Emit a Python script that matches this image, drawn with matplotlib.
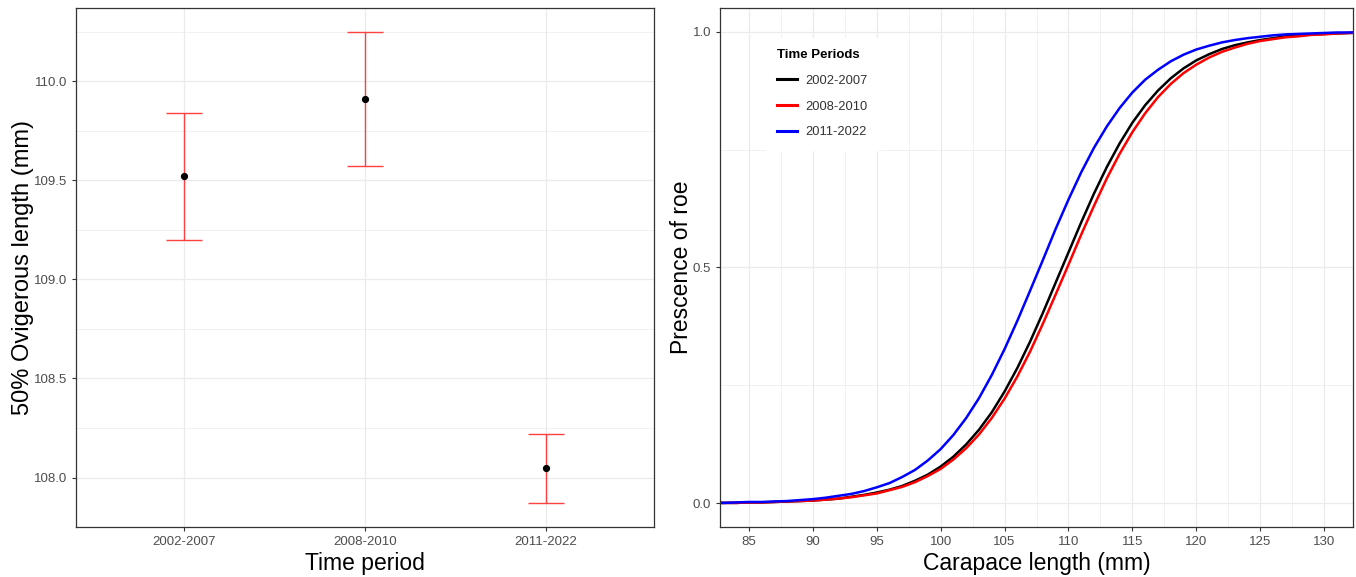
import matplotlib

matplotlib.use("Agg")

import matplotlib.pyplot as plt
from matplotlib.ticker import MultipleLocator, FormatStrFormatter

plt.rcParams["font.family"] = ["Liberation Sans", "DejaVu Sans"]

# Left panel: 50% ovigerous length per time period (estimate and interval)
periods = ["2002-2007", "2008-2010", "2011-2022"]
l50 = [109.52, 109.91, 108.05]
l50_low = [109.20, 109.57, 107.87]
l50_high = [109.84, 110.25, 108.22]

# Right panel: fitted presence-of-roe curves
carapace = [82, 83, 84, 85, 86, 87, 88, 89, 90, 91, 92, 93, 94, 95, 96, 97, 98, 99,
            100, 101, 102, 103, 104, 105, 106, 107, 108, 109, 110, 111, 112, 113,
            114, 115, 116, 117, 118, 119, 120, 121, 122, 123, 124, 125, 126, 127,
            128, 129, 130, 131, 132, 133]
roe_2002_2007 = [0.001, 0.001, 0.001, 0.002, 0.002, 0.003, 0.004, 0.005, 0.006, 0.008,
                 0.010, 0.014, 0.018, 0.023, 0.029, 0.037, 0.048, 0.061, 0.078, 0.099,
                 0.125, 0.156, 0.193, 0.237, 0.287, 0.343, 0.404, 0.468, 0.532, 0.596,
                 0.657, 0.713, 0.763, 0.807, 0.844, 0.875, 0.901, 0.922, 0.939, 0.952,
                 0.963, 0.971, 0.977, 0.982, 0.986, 0.990, 0.992, 0.994, 0.995, 0.996,
                 0.997, 0.998]
roe_2008_2010 = [0.001, 0.001, 0.001, 0.002, 0.002, 0.003, 0.004, 0.005, 0.006, 0.008,
                 0.010, 0.013, 0.017, 0.021, 0.028, 0.035, 0.045, 0.058, 0.073, 0.093,
                 0.117, 0.146, 0.181, 0.222, 0.269, 0.322, 0.381, 0.443, 0.506, 0.570,
                 0.631, 0.689, 0.741, 0.787, 0.827, 0.861, 0.889, 0.912, 0.930, 0.945,
                 0.957, 0.966, 0.974, 0.980, 0.984, 0.988, 0.990, 0.993, 0.994, 0.996,
                 0.997, 0.998]
roe_2011_2022 = [0.001, 0.001, 0.002, 0.003, 0.003, 0.004, 0.005, 0.007, 0.009, 0.012,
                 0.016, 0.020, 0.026, 0.034, 0.043, 0.056, 0.071, 0.091, 0.115, 0.145,
                 0.181, 0.223, 0.272, 0.327, 0.387, 0.451, 0.516, 0.582, 0.644, 0.702,
                 0.754, 0.799, 0.838, 0.871, 0.898, 0.919, 0.937, 0.951, 0.962, 0.970,
                 0.977, 0.982, 0.986, 0.989, 0.992, 0.994, 0.995, 0.996, 0.997, 0.998,
                 0.998, 0.999]

GRID = "#EBEBEB"
BORDER = "#333333"
TICKTXT = "#4D4D4D"


def style_panel(ax):
    """theme_bw-ish look."""
    for sp in ax.spines.values():
        sp.set_color(BORDER)
        sp.set_linewidth(0.9)
    ax.tick_params(which="major", length=3, width=0.8, color=BORDER,
                   labelcolor=TICKTXT, labelsize=9.5)
    ax.tick_params(which="minor", length=0)
    ax.grid(True, which="major", color=GRID, linewidth=0.9)
    ax.grid(True, which="minor", color=GRID, linewidth=0.5)
    ax.set_axisbelow(True)


fig = plt.figure(figsize=(13.56, 5.77), dpi=100)

# ---- left panel ----
ax1 = fig.add_axes([0.0560, 0.0867, 0.4263, 0.8995])
style_panel(ax1)
xpos = list(range(1, len(periods) + 1))
ax1.vlines(xpos, l50_low, l50_high, color="#FF4040", linewidth=1.0)
ax1.hlines(l50_low, [x - 0.1 for x in xpos], [x + 0.1 for x in xpos],
           color="#FF4040", linewidth=1.0)
ax1.hlines(l50_high, [x - 0.1 for x in xpos], [x + 0.1 for x in xpos],
           color="#FF4040", linewidth=1.0)
ax1.plot(xpos, l50, "o", color="black", markersize=4.2, zorder=3)

lo, hi = min(l50_low), max(l50_high)
pad = (hi - lo) * 0.05
ax1.set_ylim(lo - pad, hi + pad)
ax1.set_xlim(0.4, len(periods) + 0.6)
ax1.set_xticks(xpos)
ax1.set_xticklabels(periods)
ax1.yaxis.set_major_locator(MultipleLocator(0.5))
ax1.yaxis.set_minor_locator(MultipleLocator(0.25))
ax1.yaxis.set_major_formatter(FormatStrFormatter("%.1f"))
ax1.set_xlabel("Time period", fontsize=16.5, labelpad=3)
ax1.set_ylabel("50% Ovigerous length (mm)", fontsize=17, labelpad=-0.5)

# ---- right panel ----
ax2 = fig.add_axes([0.5310, 0.0867, 0.4668, 0.8995])
style_panel(ax2)
ax2.plot(carapace, roe_2002_2007, color="black", linewidth=1.8, label="2002-2007")
ax2.plot(carapace, roe_2008_2010, color="red", linewidth=1.8, label="2008-2010")
ax2.plot(carapace, roe_2011_2022, color="blue", linewidth=1.8, label="2011-2022")
ax2.set_xlim(82.75, 132.25)
ax2.set_ylim(-0.05, 1.05)
ax2.xaxis.set_major_locator(MultipleLocator(5))
ax2.xaxis.set_minor_locator(MultipleLocator(2.5))
ax2.yaxis.set_major_locator(MultipleLocator(0.5))
ax2.yaxis.set_minor_locator(MultipleLocator(0.25))
ax2.yaxis.set_major_formatter(FormatStrFormatter("%.1f"))
ax2.set_xlabel("Carapace length (mm)", fontsize=16.5, labelpad=3)
ax2.set_ylabel("Prescence of roe", fontsize=16.5, labelpad=-0.5)

leg = ax2.legend(title="Time Periods", loc="upper left",
                 bbox_to_anchor=(0.062, 0.955), frameon=True, fancybox=False,
                 edgecolor="white", framealpha=1.0, fontsize=9.3,
                 handlelength=1.5, handletextpad=0.7, labelspacing=1.05,
                 borderpad=0.9)
leg.get_title().set_fontweight("bold")
leg.get_title().set_fontsize(9.5)
leg._legend_box.align = "left"
for line in leg.get_lines():
    line.set_linewidth(2.2)
for txt in leg.get_texts():
    txt.set_color("#333333")

fig.savefig("out.png", dpi=100)
